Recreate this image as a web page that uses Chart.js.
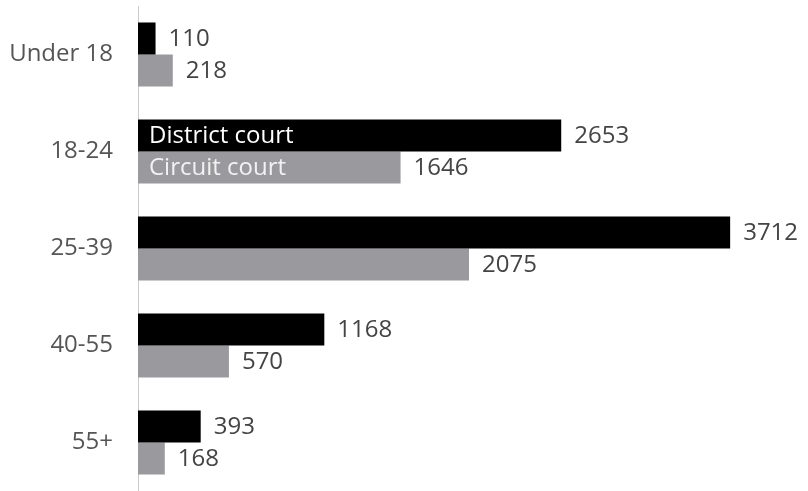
<!DOCTYPE html>
<html>
<head>
<meta charset="utf-8">
<script src="https://cdn.jsdelivr.net/npm/chart.js@4"></script>
<style>
  html, body { margin: 0; padding: 0; background: #fff; overflow: hidden; }
  canvas { display: block; }
</style>
</head>
<body>
<canvas id="chart" width="808" height="491"></canvas>
<script>
// data
const ageGroups = ['Under 18', '18-24', '25-39', '40-55', '55+'];
const districtCourt = [110, 2653, 3712, 1168, 393];
const circuitCourt = [218, 1646, 2075, 570, 168];
const seriesNames = ['District court', 'Circuit court'];

const FONT = "'Open Sans', sans-serif";

// value labels at bar ends + series names inside the 18-24 bars
const barLabels = {
  id: 'barLabels',
  afterDatasetsDraw(chart) {
    const ctx = chart.ctx;
    ctx.save();
    ctx.font = '24px ' + FONT;
    ctx.textBaseline = 'middle';
    chart.data.datasets.forEach((ds, i) => {
      const meta = chart.getDatasetMeta(i);
      meta.data.forEach((bar, j) => {
        ctx.fillStyle = '#444';
        ctx.textAlign = 'left';
        ctx.fillText(ds.data[j], bar.x + 13, bar.y + 1);
      });
      const b = meta.data[1];
      ctx.fillStyle = i === 0 ? '#fff' : '#f2f2f2';
      ctx.fillText(seriesNames[i], b.base + 11, b.y + 1);
    });
    ctx.restore();
  }
};

const chart = new Chart(document.getElementById('chart'), {
  type: 'bar',
  data: {
    labels: ageGroups,
    datasets: [
      { label: seriesNames[0], data: districtCourt, backgroundColor: '#000000' },
      { label: seriesNames[1], data: circuitCourt, backgroundColor: '#9a999e' }
    ]
  },
  options: {
    indexAxis: 'y',
    responsive: false,
    animation: false,
    layout: { padding: 0 },
    datasets: { bar: { categoryPercentage: 0.66, barPercentage: 1 } },
    plugins: { legend: { display: false }, tooltip: { enabled: false } },
    scales: {
      x: { display: false, min: 0, max: 4200 },
      y: {
        grid: { display: false },
        border: { display: true, color: '#cccccc', width: 1 },
        ticks: { color: '#555', font: { family: FONT, size: 24 }, padding: 17 },
        afterFit(scale) {
          scale.width = 138;
          scale.paddingTop = 6;
          scale.paddingBottom = 0;
        }
      }
    }
  },
  plugins: [barLabels]
});
</script>
</body>
</html>
